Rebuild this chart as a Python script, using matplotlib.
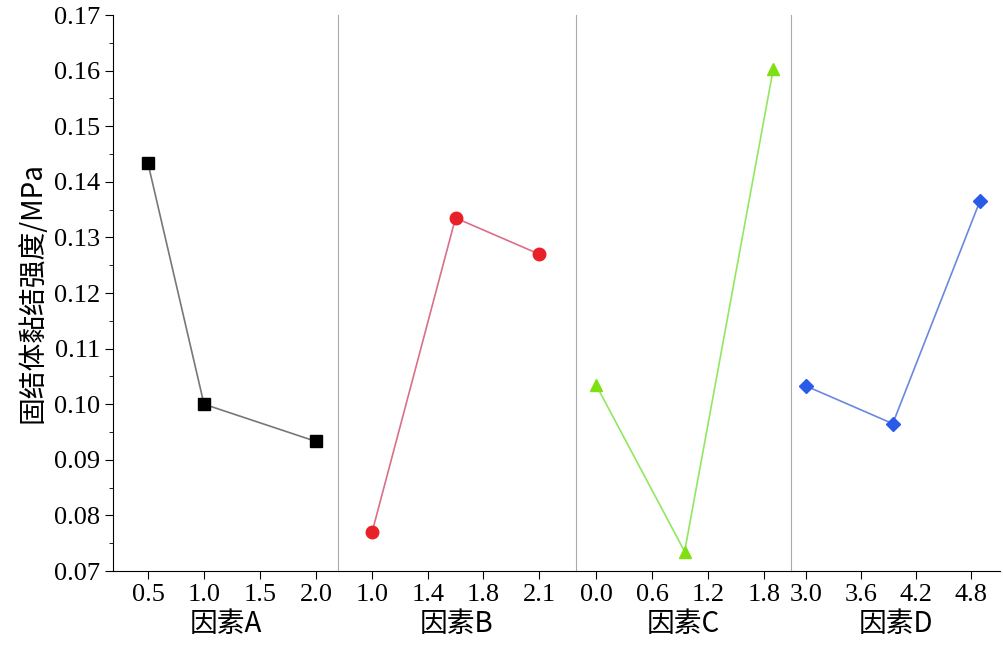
import matplotlib
matplotlib.use("Agg")
import matplotlib.pyplot as plt

plt.rcParams['font.family'] = ['Liberation Serif', 'Noto Sans CJK SC']
plt.rcParams['font.size'] = 19

xa = [0.5, 1.0, 2.0]; ya = [0.1433, 0.1000, 0.0933]
xb = [1.0, 1.6, 2.2]; yb = [0.0770, 0.1335, 0.1270]
xc = [0.0, 0.95, 1.9]; yc = [0.1035, 0.0735, 0.1603]
xd = [3.0, 3.95, 4.9]; yd = [0.1033, 0.0965, 0.1365]

panels = [
    (xa, ya, [0.5, 1.0, 1.5, 2.0], ['0.5', '1.0', '1.5', '2.0'], (0.1875, 2.196), 's', 'black', '#777777', '因素A'),
    (xb, yb, [1.0, 1.4, 1.8, 2.2], ['1.0', '1.4', '1.8', '2.1'], (0.755, 2.466), 'o', '#e8202a', '#d87088', '因素B'),
    (xc, yc, [0.0, 0.6, 1.2, 1.8], ['0.0', '0.6', '1.2', '1.8'], (-0.214, 2.09), '^', '#7ee012', '#90e860', '因素C'),
    (xd, yd, [3.0, 3.6, 4.2, 4.8], ['3.0', '3.6', '4.2', '4.8'], (2.84, 5.12), 'D', '#2a5be8', '#6a88e0', '因素D'),
]
edges = [113, 338, 576, 791, 1000]
W, H = 1004, 653
fig = plt.figure(figsize=(W/100, H/100), dpi=100)
bottom = (H-571)/H; height = (571-15)/H
for i, (x, y, ticks, labels, xl, m, mc, lc, name) in enumerate(panels):
    ax = fig.add_axes([edges[i]/W, bottom, (edges[i+1]-edges[i])/W, height])
    ax.plot(x, y, color=lc, lw=1.2, zorder=1)
    ax.plot(x, y, ls='none', marker=m, ms=9 if m != 'D' else 7.5, color=mc, zorder=2)
    ax.set_xlim(*xl); ax.set_ylim(0.07, 0.17)
    ax.set_xticks(ticks); ax.set_xticklabels(labels)
    ax.set_xlabel(name, fontsize=20, labelpad=2)
    ax.tick_params(direction='out', length=6)
    for s in ['top', 'right']:
        ax.spines[s].set_visible(False)
    if i == 0:
        ax.set_yticks([0.07 + 0.01*k for k in range(11)])
        ax.set_yticklabels([f'{0.07 + 0.01*k:.2f}' for k in range(11)])
        ax.set_ylabel('固结体黏结强度/MPa', family=['Noto Sans CJK SC'], fontsize=20)
        ax.yaxis.set_minor_locator(matplotlib.ticker.MultipleLocator(0.005))
        ax.tick_params(which='minor', axis='y', length=3)
    else:
        ax.spines['left'].set_color('#aaaaaa')
        ax.tick_params(axis='y', left=False, labelleft=False)
    ax.xaxis.label.set_family(['Noto Sans CJK SC'])
    ax.patch.set_alpha(0)
fig.savefig('out.png', dpi=100)
